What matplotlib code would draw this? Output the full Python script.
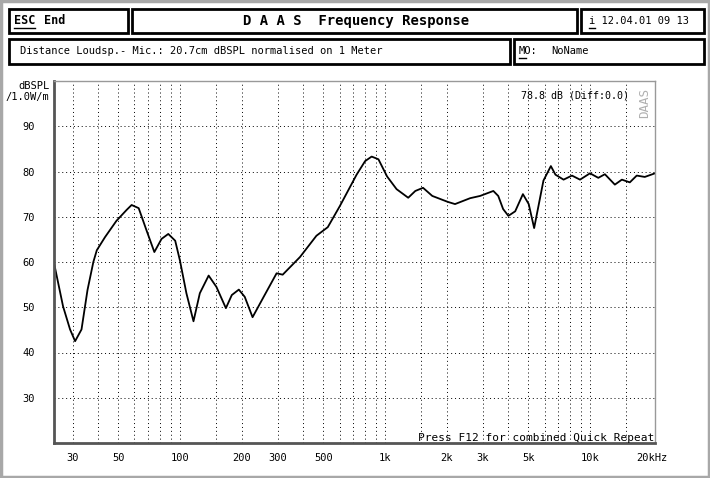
import numpy as np
import matplotlib.pyplot as plt
from matplotlib.patches import Rectangle
from matplotlib.lines import Line2D

# frequency response (Hz, dBSPL)
freq = [24.3, 26.9, 29.1, 30.8, 33.1, 35.4, 37.8, 39.3, 43.1, 49, 54.9, 58.1,
        62.9, 68.8, 75, 81.3, 87.7, 94.8, 100, 107.5, 116.4, 125, 138, 150.6,
        167.5, 179, 193.7, 207, 226, 256, 296, 317, 385, 463, 526, 603, 727,
        800, 861, 929, 1024, 1139, 1298, 1406, 1533, 1701, 2021, 2196, 2601,
        2910, 3377, 3568, 3769, 3998, 4316, 4707, 5024, 5340, 5929, 6443, 6783,
        7431, 8165, 8937, 10000, 10978, 11820, 13220, 14300, 15640, 16900,
        18500, 20750]
spl = [59.8, 50.2, 45.1, 42.5, 45.1, 53.8, 60.0, 62.6, 65.5, 69.1, 71.5, 72.6,
       71.9, 66.9, 62.2, 65.1, 66.2, 64.7, 60.3, 53.1, 46.9, 53.1, 57.0, 54.5,
       49.8, 52.7, 53.9, 52.3, 47.8, 52.3, 57.5, 57.2, 61.1, 65.8, 67.7, 72.4,
       79.3, 82.3, 83.3, 82.7, 78.9, 76.1, 74.2, 75.7, 76.4, 74.6, 73.3, 72.8,
       74.1, 74.6, 75.7, 74.6, 71.7, 70.2, 71.2, 75.0, 72.8, 67.5, 78.0, 81.2,
       79.3, 78.2, 79.1, 78.2, 79.6, 78.6, 79.4, 77.1, 78.2, 77.6, 79.1, 78.8,
       79.6]

y_ticks = [30, 40, 50, 60, 70, 80, 90]
x_ticks = [30, 50, 100, 200, 300, 500, 1000, 2000, 3000, 5000, 10000, 20000]
x_labels = ['30', '50', '100', '200', '300', '500', '1k', '2k', '3k', '5k', '10k', '20kHz']
x_grid = [30, 40, 50, 60, 70, 80, 90, 100, 150, 200, 300, 400, 500, 600, 700,
          800, 900, 1000, 1500, 2000, 3000, 4000, 5000, 6000, 7000, 8000, 9000,
          10000, 15000]

mono = 'DejaVu Sans Mono'
W, H = 710, 478

fig = plt.figure(figsize=(7.1, 4.78), dpi=100)

def px(x, y):
    return x / W, 1 - y / H

def box(x0, y0, x1, y1):
    fig.patches.append(Rectangle(px(x0, y1), (x1 - x0) / W, (y1 - y0) / H,
                                 transform=fig.transFigure, fill=False,
                                 edgecolor='black', linewidth=2))

def underline(x0, x1, y):
    fig.lines.append(Line2D([x0 / W, x1 / W], [1 - y / H, 1 - y / H],
                            transform=fig.transFigure, color='black', linewidth=1))

# outer dithered border
fig.patches.append(Rectangle((0.002, 0.003), 0.996, 0.994, transform=fig.transFigure,
                             fill=False, edgecolor='#a8a8a8', linewidth=2.5))

box(9, 9, 128, 33)
box(132, 9, 577, 33)
box(581, 9, 704, 33)
box(9, 39, 510, 64)
box(514, 39, 704, 64)

fig.text(*px(14, 21), 'ESC', family=mono, weight='bold', fontsize=8.5, va='center')
underline(14, 35, 28)
fig.text(*px(44, 21), 'End', family=mono, weight='bold', fontsize=8.5, va='center')
fig.text(*px(356, 21), 'D A A S  Frequency Response', family=mono, weight='bold',
         fontsize=10, va='center', ha='center')
fig.text(*px(589, 21), 'i 12.04.01 09 13', family=mono, fontsize=7.5, va='center')
underline(589, 595, 28)
fig.text(*px(20, 51), 'Distance Loudsp.- Mic.: 20.7cm dBSPL normalised on 1 Meter',
         family=mono, fontsize=7.5, va='center')
fig.text(*px(519, 51), 'MO:', family=mono, fontsize=7.5, va='center')
underline(519, 526, 58)
fig.text(*px(551, 51), 'NoName', family=mono, fontsize=7.5, va='center')

ax = fig.add_axes([54 / W, 35 / H, 601 / W, 362 / H])
ax.plot(freq, spl, color='black', linewidth=1.3)
ax.set_xscale('log')
ax.set_xlim(24.3, 20750)
ax.set_ylim(20, 100)

ax.set_xticks(x_ticks)
ax.set_xticklabels(x_labels, family=mono, fontsize=7.5)
ax.xaxis.set_minor_locator(plt.NullLocator())
ax.set_yticks(y_ticks)
ax.set_yticklabels([str(v) for v in y_ticks], family=mono, fontsize=7.5)
ax.tick_params(length=0, pad=7)
ax.tick_params(axis='y', pad=14)

for f in x_grid:
    ax.axvline(f, color='black', linewidth=0.7, linestyle=(0, (1, 3)), zorder=0)
for v in y_ticks:
    ax.axhline(v, color='black', linewidth=0.7, linestyle=(0, (1, 3)), zorder=0)

for side in ['left', 'bottom']:
    ax.spines[side].set_linewidth(2)
    ax.spines[side].set_color('#555555')
for side in ['top', 'right']:
    ax.spines[side].set_linewidth(1)
    ax.spines[side].set_color('#999999')

fig.text(*px(18, 86), 'dBSPL', family=mono, fontsize=7.5, va='center')
fig.text(*px(5, 97), '/1.0W/m', family=mono, fontsize=7.5, va='center')
fig.text(*px(521, 95), '78.8 dB (Diff:0.0)', family=mono, fontsize=7.2, va='center')
fig.text(*px(645, 103), 'DAAS', family=mono, fontsize=9, color='#b0b0b0',
         rotation=90, va='center', ha='center')
fig.text(*px(654, 438), 'Press F12 for combined Quick Repeat', family=mono,
         fontsize=8, ha='right', va='center')

fig.savefig('out.png', dpi=100)
